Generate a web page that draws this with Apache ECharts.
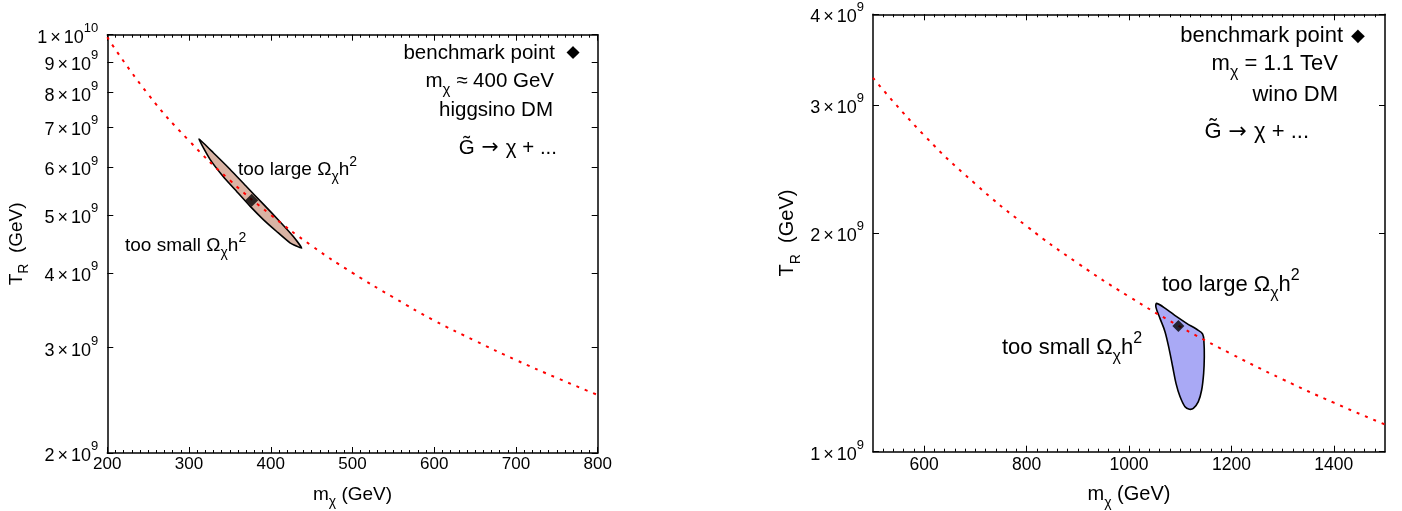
<!DOCTYPE html>
<html><head><meta charset="utf-8">
<script src="https://cdn.jsdelivr.net/npm/echarts@6/dist/echarts.min.js"></script>
<style>html,body{margin:0;padding:0;background:#fff}#c{width:1402px;height:511px}</style>
</head><body><div id="c"></div>
<script>
// ---------- Left panel (higgsino DM) ----------
const leftCurveM = [200,250,300,350,400,450,500,550,600,650,700,750,800];
const leftCurveT = [9.9e9,7.95e9,6.65e9,5.71e9,5.0e9,4.44e9,4.0e9,3.64e9,3.33e9,3.08e9,2.86e9,2.67e9,2.5e9];
const leftRegionM = [312.2,329.7,350.1,370.5,390.9,411.3,427.6,437.8,423.5,407.2,390.9,374.6,358.3,342.0,325.7];
const leftRegionT = [6.69e9,6.35e9,5.96e9,5.57e9,5.21e9,4.87e9,4.60e9,4.40e9,4.49e9,4.69e9,4.91e9,5.17e9,5.47e9,5.79e9,6.19e9];
const leftBenchmark = [[376.7,5.29e9]];
const leftXTicks = [200,300,400,500,600,700,800];
const leftYTicks = [2e9,3e9,4e9,5e9,6e9,7e9,8e9,9e9,1e10];

// ---------- Right panel (wino DM) ----------
const rightCurveM = [500,600,700,800,900,1000,1100,1200,1300,1400,1500];
const rightCurveT = [3.27e9,2.725e9,2.336e9,2.044e9,1.817e9,1.635e9,1.486e9,1.363e9,1.258e9,1.168e9,1.09e9];
const rightRegionM = [1054.0,1073.6,1093.1,1112.6,1132.2,1143.9,1146.5,1147.1,1145.8,1141.9,1135.4,1125.6,1117.8,1109.4,1099.6,1091.8,1085.3,1078.8,1070.3,1060.5,1052.7];
const rightRegionT = [1.600e9,1.570e9,1.534e9,1.502e9,1.474e9,1.452e9,1.410e9,1.351e9,1.282e9,1.216e9,1.172e9,1.147e9,1.144e9,1.153e9,1.191e9,1.242e9,1.309e9,1.380e9,1.463e9,1.526e9,1.580e9];
const rightBenchmark = [[1096.4,1.489e9]];
const rightXTicks = [600,800,1000,1200,1400];
const rightXMinorTicks = [];
for (let v = 520; v < 1500; v += 20) rightXMinorTicks.push(v);
const rightYTicks = [1e9,2e9,3e9,4e9];

const FONT = '"Liberation Sans", Arial, Helvetica, sans-serif';
function makeRich(fs){
  const sub = Math.round(fs*0.72);
  const lh = Math.round(fs*1.55);
  return {
    t:{fontSize:fs,fontFamily:FONT,color:'#000',lineHeight:Math.round(fs*1.15)},
    s:{fontSize:sub,fontFamily:FONT,color:'#000',lineHeight:lh,verticalAlign:'bottom'},
    p:{fontSize:sub,fontFamily:FONT,color:'#000',lineHeight:lh,verticalAlign:'top'},
    a:{fontSize:fs,fontFamily:'"DejaVu Sans"',color:'#000',lineHeight:Math.round(fs*1.15),padding:[0,7,0,7]}
  };
}
const richL = makeRich(19), richLegL = makeRich(20.5);
const richR = makeRich(22), richAxR = makeRich(20);
const tickRich = {
  n:{fontSize:18,fontFamily:FONT,color:'#000',lineHeight:20,padding:[6,0,0,0]},
  x:{fontSize:18,fontFamily:FONT,color:'#000',lineHeight:20,padding:[6,3,0,3]},
  e:{fontSize:13,fontFamily:FONT,color:'#000',lineHeight:26,verticalAlign:'top'}
};
function sciFmt(v){
  const e = Math.floor(Math.log10(v)+1e-6);
  const m = Math.round(v/Math.pow(10,e));
  return '{n|'+m+'}{x|\u00d7}{n|10}{e|'+e+'}';
}
function plainFmt(v){ return String(Math.round(v)); }
const lineStyle = {color:'#000',width:1.5};

function xAxis(grid, pos, min, max, opts){
  return Object.assign({
    type:'value', gridIndex:grid, position:pos, min:min, max:max,
    axisLine:{show:true,onZero:false,lineStyle:lineStyle},
    splitLine:{show:false},
    axisTick:{show:true,inside:true,length:6,lineStyle:{color:'#000',width:1}},
    axisLabel:{show:false}
  }, opts||{});
}
function yAxis(grid, pos, min, max, ticks, opts){
  return Object.assign({
    type:'log', logBase:10, gridIndex:grid, position:pos, min:min, max:max,
    axisLine:{show:true,onZero:false,lineStyle:lineStyle},
    splitLine:{show:false},
    minorTick:{show:false},
    axisTick:{show:true,inside:true,length:6,customValues:ticks,lineStyle:{color:'#000',width:1}},
    axisLabel:{show:false}
  }, opts||{});
}
const xName = '{t|m}{s|\u03c7}{t| (GeV)}';
const yName = '{t|T}{s|R}{t|  (GeV)}';

const xAxes = [
  xAxis(0,'bottom',200,800,{interval:100,
    minorTick:{show:true,splitNumber:10,length:3,lineStyle:{color:'#000',width:1}},
    axisLabel:{show:true,customValues:leftXTicks,formatter:plainFmt,margin:3,fontSize:17,fontFamily:FONT,color:'#000'},
    name:xName,nameLocation:'middle',nameGap:27,nameTextStyle:{rich:richL}}),
  xAxis(0,'top',200,800,{interval:100,
    minorTick:{show:true,splitNumber:10,length:3,lineStyle:{color:'#000',width:1}}}),
  xAxis(1,'bottom',500,1500,{
    axisTick:{show:true,inside:true,length:6,customValues:rightXTicks,lineStyle:{color:'#000',width:1}},
    axisLabel:{show:true,customValues:rightXTicks,formatter:plainFmt,margin:4,fontSize:17.5,fontFamily:FONT,color:'#000'},
    name:xName,nameLocation:'middle',nameGap:27,nameTextStyle:{rich:richAxR}}),
  xAxis(1,'top',500,1500,{
    axisTick:{show:true,inside:true,length:6,customValues:rightXTicks,lineStyle:{color:'#000',width:1}}}),
  xAxis(1,'bottom',500,1500,{axisLine:{show:false},
    axisTick:{show:true,inside:true,length:3,customValues:rightXMinorTicks,lineStyle:{color:'#000',width:1}}}),
  xAxis(1,'top',500,1500,{axisLine:{show:false},
    axisTick:{show:true,inside:true,length:3,customValues:rightXMinorTicks,lineStyle:{color:'#000',width:1}}})
];
const yAxes = [
  yAxis(0,'left',2e9,1e10,leftYTicks,{
    axisLabel:{show:true,customValues:leftYTicks,margin:9,formatter:sciFmt,rich:tickRich},
    name:yName,nameLocation:'middle',nameGap:76,nameTextStyle:{rich:richL}}),
  yAxis(0,'right',2e9,1e10,leftYTicks),
  yAxis(1,'left',1e9,4e9,rightYTicks,{
    axisLabel:{show:true,customValues:rightYTicks,margin:9,formatter:sciFmt,rich:tickRich},
    name:yName,nameLocation:'middle',nameGap:70,nameTextStyle:{rich:richAxR}}),
  yAxis(1,'right',1e9,4e9,rightYTicks)
];

function regionSeries(xi, yi, ms, ts, fill, smooth){
  return {
    type:'custom', xAxisIndex:xi, yAxisIndex:yi, silent:true, z:2,
    data:[[ms[0], ts[0]]],
    renderItem:function(params, api){
      const pts = ms.map(function(m,i){ return api.coord([m, ts[i]]); });
      return {type:'polygon', shape:{points:pts, smooth:smooth},
        style:{fill:fill, stroke:'#000', lineWidth:1.6}};
    }
  };
}
function curveSeries(xi, yi, ms, ts){
  return {
    type:'line', xAxisIndex:xi, yAxisIndex:yi, smooth:true, showSymbol:false, silent:true, z:3,
    data: ms.map(function(m,i){ return [m, ts[i]]; }),
    lineStyle:{color:'#ff0000', width:2, type:[3,6]}
  };
}
function benchSeries(xi, yi, pts, size){
  return {type:'scatter', xAxisIndex:xi, yAxisIndex:yi, symbol:'diamond', symbolSize:size,
    itemStyle:{color:'#000'}, data:pts, z:4, silent:true};
}

function txt(x, y, text, rich, align){
  return {type:'text', x:x, y:y, silent:true, z:10,
    style:{text:text, rich:rich, align:align||'right', textAlign:align||'right',
      verticalAlign:'middle', textVerticalAlign:'middle', fill:'#000', font:rich.t.fontSize+'px '+FONT}};
}
function diamond(x, y, fs){
  return {type:'text', x:x, y:y, silent:true, z:10,
    style:{text:'\u25c6', align:'center', textAlign:'center', verticalAlign:'middle', textVerticalAlign:'middle',
      fill:'#000', font:fs+'px "DejaVu Sans"'}};
}

const chart = echarts.init(document.getElementById('c'));
chart.setOption({
  animation:false,
  backgroundColor:'#fff',
  grid:[
    {left:107.3, top:34.7, width:490.4, height:418.3, outerBoundsMode:'none', containLabel:false},
    {left:873, top:14.3, width:512, height:437.4, outerBoundsMode:'none', containLabel:false}
  ],
  xAxis:xAxes,
  yAxis:yAxes,
  series:[
    regionSeries(0,0,leftRegionM,leftRegionT,'#d9b3a4',0.15),
    curveSeries(0,0,leftCurveM,leftCurveT),
    benchSeries(0,0,leftBenchmark,13),
    regionSeries(2,2,rightRegionM,rightRegionT,'#a9a9f5',0.35),
    curveSeries(2,2,rightCurveM,rightCurveT),
    benchSeries(2,2,rightBenchmark,12)
  ],
  graphic:[
    txt(555,53,'{t|benchmark point}',richLegL), diamond(573,53,17),
    txt(554,81,'{t|m}{s|\u03c7}{t| \u2248 400 GeV}',richLegL),
    txt(553,110,'{t|higgsino DM}',richLegL),
    txt(557,148,'{t|G\u0303}{a|\u2192}{t|\u03c7 + ...}',richLegL),
    txt(238,170,'{t|too large \u03a9}{s|\u03c7}{t|h}{p|2}',richL,'left'),
    txt(125,246,'{t|too small \u03a9}{s|\u03c7}{t|h}{p|2}',richL,'left'),
    txt(1343,36,'{t|benchmark point}',richR), diamond(1358,36,18),
    txt(1338,64,'{t|m}{s|\u03c7}{t| = 1.1 TeV}',richR),
    txt(1338,95,'{t|wino DM}',richR),
    txt(1309,132,'{t|G\u0303}{a|\u2192}{t|\u03c7 + ...}',richR),
    txt(1162,285,'{t|too large \u03a9}{s|\u03c7}{t|h}{p|2}',richR,'left'),
    txt(1002,348,'{t|too small \u03a9}{s|\u03c7}{t|h}{p|2}',richR,'left')
  ]
});
</script>
</body></html>
